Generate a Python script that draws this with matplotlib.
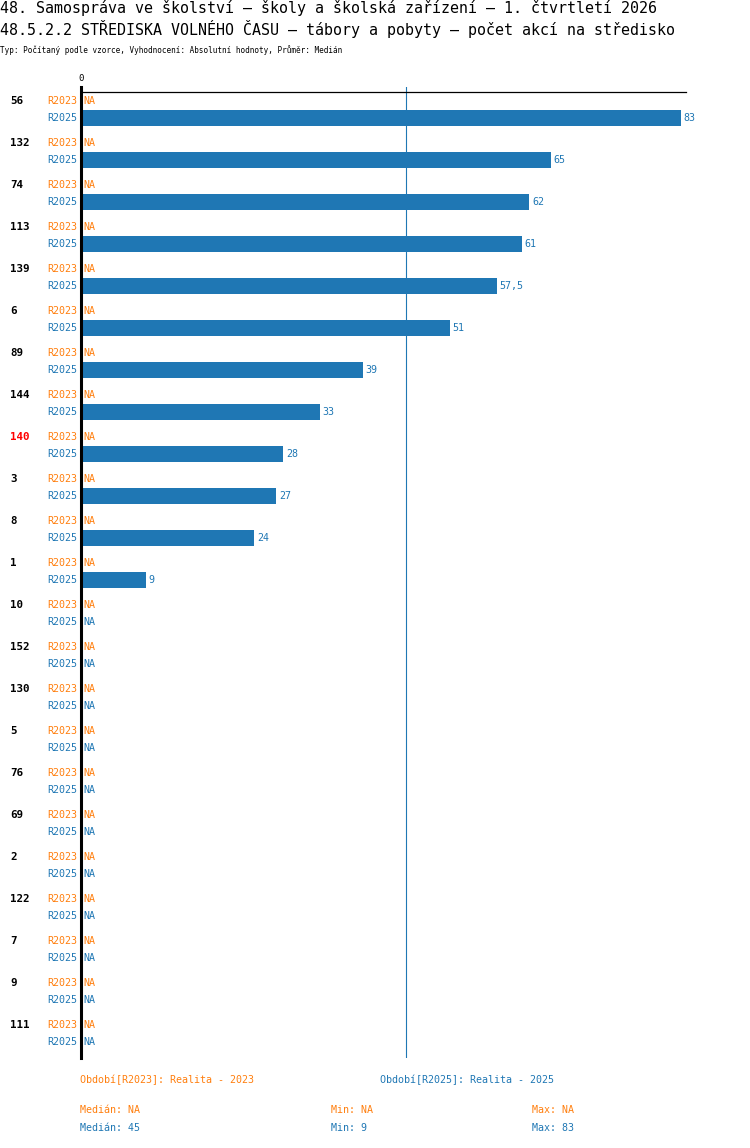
import numpy as np
import matplotlib.pyplot as plt
import matplotlib.transforms as mtransforms

# ------------------------------------------------------------------
# Data
# ------------------------------------------------------------------
groups = ["56", "132", "74", "113", "139", "6", "89", "144", "140", "3", "8", "1",
          "10", "152", "130", "5", "76", "69", "2", "122", "7", "9", "111"]
highlight = "140"
r2023 = [np.nan] * len(groups)
r2025 = [83, 65, 62, 61, 57.5, 51, 39, 33, 28, 27, 24, 9] + [np.nan] * 11
series_names = ["R2023", "R2025"]

title1 = "48. Samospráva ve školství – školy a školská zařízení – 1. čtvrtletí 2026"
title2 = "48.5.2.2 STŘEDISKA VOLNÉHO ČASU – tábory a pobyty – počet akcí na středisko"
subtitle = "Typ: Počítaný podle vzorce, Vyhodnocení: Absolutní hodnoty, Průměr: Medián"
legend_labels = ["Období[R2023]: Realita - 2023", "Období[R2025]: Realita - 2025"]

ORANGE = "#ff7f0e"
BLUE = "#1f77b4"
MONO = "DejaVu Sans Mono"

W, H = 750, 1148
fig = plt.figure(figsize=(W / 100, H / 100), dpi=100)


def fx(px):
    return px / W


def fy(py):
    return 1 - py / H


# axes: x 81..686 px, y 87..1058 px ; 1 group = 42 px
ax = fig.add_axes([fx(81), fy(1058), fx(686) - fx(81), fy(87) - fy(1058)])
n = len(groups)
step = 42.0
ax.set_xlim(0, 605 / (600 / 83))
ax.set_ylim((1058 - 101) / step, -(101 - 87) / step)

sub_off = 17 / step
bar_h = 16 / step
y23 = np.arange(n)
y25 = y23 + sub_off

vals25 = np.array(r2025, dtype=float)
vals23 = np.array(r2023, dtype=float)

ax.barh(y25[~np.isnan(vals25)], vals25[~np.isnan(vals25)], height=bar_h,
        color=BLUE, linewidth=0)

# median line
med = np.nanmedian(vals25)
ax.axvline(med, color=BLUE, linewidth=0.8, zorder=0)

# top horizontal rule
ax.axhline(-(101 - 92) / step, color="black", linewidth=0.9, clip_on=False)

for s in ["top", "right", "bottom"]:
    ax.spines[s].set_visible(False)
ax.spines["left"].set_linewidth(2.2)
ax.set_yticks([])
ax.xaxis.tick_top()
ax.set_xticks([0])
ax.tick_params(axis="x", length=0, pad=3, labelsize=6.5)
for lab in ax.get_xticklabels():
    lab.set_fontfamily(MONO)


def fmt(v):
    s = ("%g" % v)
    return s.replace(".", ",")


lbl_kw = dict(fontsize=7.2, family=MONO, va="center")
for i in range(n):
    # series labels left of the axis
    ax.annotate(series_names[0], (0, y23[i]), xytext=(-3, 0), textcoords="offset points",
                ha="right", color=ORANGE, **lbl_kw)
    ax.annotate(series_names[1], (0, y25[i]), xytext=(-3, 0), textcoords="offset points",
                ha="right", color=BLUE, **lbl_kw)
    # values
    for v, yy, c in [(vals23[i], y23[i], ORANGE), (vals25[i], y25[i], BLUE)]:
        if np.isnan(v):
            ax.annotate("NA", (0, yy), xytext=(2, 0), textcoords="offset points",
                        ha="left", color=c, **lbl_kw)
        else:
            ax.annotate(fmt(v), (v, yy), xytext=(2, 0), textcoords="offset points",
                        ha="left", color=c, **lbl_kw)

# group labels
trans = mtransforms.blended_transform_factory(fig.transFigure, ax.transData)
for i, g in enumerate(groups):
    ax.text(fx(10), y23[i], g, transform=trans, ha="left", va="center",
            fontsize=7.8, family=MONO, fontweight="bold",
            color="red" if g == highlight else "black")

# titles
fig.text(fx(0), fy(8), title1, ha="left", va="center", fontsize=10.8, family=MONO)
fig.text(fx(0), fy(29), title2, ha="left", va="center", fontsize=10.8, family=MONO)
fig.text(fx(0), fy(50), subtitle, ha="left", va="center", fontsize=5.5, family=MONO)

# legend / summary
fig.text(fx(80), fy(1080), legend_labels[0], ha="left", va="center",
         fontsize=7.2, family=MONO, color=ORANGE)
fig.text(fx(380), fy(1080), legend_labels[1], ha="left", va="center",
         fontsize=7.2, family=MONO, color=BLUE)


def stat(a, f):
    a = a[~np.isnan(a)]
    return "NA" if a.size == 0 else fmt(f(a))


for arr, py, c in [(vals23, 1110, ORANGE), (vals25, 1128, BLUE)]:
    fig.text(fx(80), fy(py), "Medián: " + stat(arr, np.median), ha="left", va="center",
             fontsize=7.2, family=MONO, color=c)
    fig.text(fx(331), fy(py), "Min: " + stat(arr, np.min), ha="left", va="center",
             fontsize=7.2, family=MONO, color=c)
    fig.text(fx(532), fy(py), "Max: " + stat(arr, np.max), ha="left", va="center",
             fontsize=7.2, family=MONO, color=c)

fig.savefig("out.png", dpi=100)
